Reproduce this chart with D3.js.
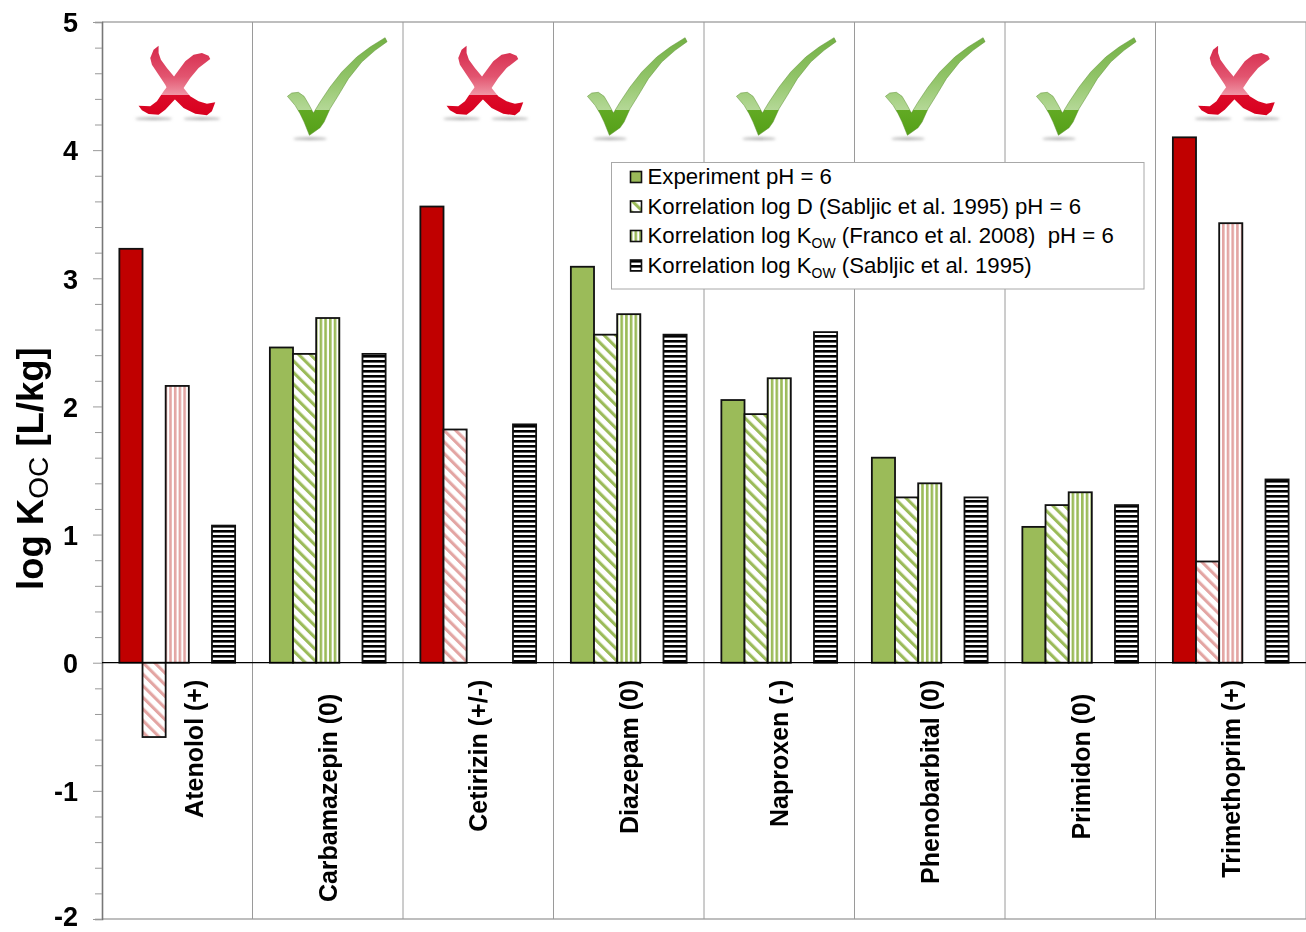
<!DOCTYPE html>
<html><head><meta charset="utf-8">
<script src="https://cdn.jsdelivr.net/npm/d3@7"></script>
<style>
html,body{margin:0;padding:0;background:#fff}
svg{display:block;filter:blur(0.4px)}
text{font-family:"Liberation Sans",Arial,sans-serif;fill:#000;white-space:pre}
</style></head><body>
<script>
const categories=["Atenolol (+)","Carbamazepin (0)","Cetirizin (+/-)","Diazepam (0)","Naproxen (-)","Phenobarbital (0)","Primidon (0)","Trimethoprim (+)"];
const agrees=[false,true,false,true,true,true,true,false];
const seriesNames=["Experiment pH = 6","Korrelation log D (Sabljic et al. 1995) pH = 6","Korrelation log K|OW| (Franco et al. 2008)  pH = 6","Korrelation log K|OW| (Sabljic et al. 1995)"];
const experiment=[3.23,2.46,3.56,3.09,2.05,1.60,1.06,4.10];
const logDSabljic=[-0.58,2.41,1.82,2.56,1.94,1.29,1.23,0.79];
const logKowFranco=[2.16,2.69,null,2.72,2.22,1.40,1.33,3.43];
const logKowSabljic=[1.07,2.41,1.86,2.56,2.58,1.29,1.23,1.43];
const majorTicks=[-2,-1,0,1,2,3,4,5];

// layout (not data)
const W=1306,H=932,plotL=102,plotR=1306,plotT=22,plotB=919;
const labelDx=[26,9,9,9,8.5,9,9.5,9], labelTop=[17,31,17,17,17,17,31,17];
const iconDx=[-3,9,4,8,6.5,5,5.5,3];
const series=[experiment,logDSabljic,logKowFranco,null,logKowSabljic];
const slotKeys=["exp","d","fr","gap","kow"];

const svg=d3.select("body").append("svg").attr("width",W).attr("height",H);
const defs=svg.append("defs");
const x=d3.scaleBand().domain(categories).range([plotL,plotR]);
const slot=d3.scaleBand().domain(slotKeys).range([0,x.bandwidth()]).paddingInner(0).paddingOuter(0.75);
const y=d3.scaleLinear().domain([-2,5]).range([plotB,plotT]);

const GREEN="#9BBB59",RED="#C00000",PINK="#E3A5A3";
function diag(id,c){const p=defs.append("pattern").attr("id",id).attr("patternUnits","userSpaceOnUse").attr("width",8.2).attr("height",8.2).attr("patternTransform","rotate(-45)");
  p.append("rect").attr("width",8.2).attr("height",8.2).attr("fill","#fff");
  p.append("rect").attr("width",3.1).attr("height",8.2).attr("fill",c);}
function vert(id,c){const p=defs.append("pattern").attr("id",id).attr("patternUnits","userSpaceOnUse").attr("width",4.7).attr("height",5);
  p.append("rect").attr("width",4.7).attr("height",5).attr("fill","#fff");
  p.append("rect").attr("width",2.6).attr("height",5).attr("fill",c);}
function horiz(id,c){const p=defs.append("pattern").attr("id",id).attr("patternUnits","userSpaceOnUse").attr("width",5).attr("height",5);
  p.append("rect").attr("width",5).attr("height",5).attr("fill","#fff");
  p.append("rect").attr("width",5).attr("height",2.6).attr("fill",c);}
diag("dG",GREEN);diag("dR",PINK);vert("vG",GREEN);vert("vR",PINK);horiz("hK","#000");
const fillFor=(k,ok)=>k==="exp"?(ok?GREEN:RED):k==="d"?(ok?"url(#dG)":"url(#dR)"):k==="fr"?(ok?"url(#vG)":"url(#vR)"):"url(#hK)";

// frame
svg.append("g").selectAll("line").data([plotT,plotB]).join("line")
  .attr("x1",plotL).attr("x2",plotR).attr("y1",d=>d).attr("y2",d=>d).attr("stroke","#a8a8a8").attr("stroke-width",1.3);
svg.append("g").selectAll("line").data(categories).join("line")
  .attr("x1",d=>x(d)+x.bandwidth()).attr("x2",d=>x(d)+x.bandwidth())
  .attr("y1",plotT).attr("y2",plotB).attr("stroke","#9a9a9a").attr("stroke-width",1);

// y axis
const minor=d3.range(-10,26).map(i=>i/5);
const ax=d3.axisLeft(y).tickValues(minor).tickSize(7).tickPadding(17)
  .tickFormat(d=>majorTicks.includes(d)?String(d):"");
const ag=svg.append("g").attr("transform",`translate(${plotL},0)`).call(ax);
ag.select(".domain").attr("stroke","#777").attr("stroke-width",1.6);
ag.selectAll(".tick line").attr("stroke","#999").attr("stroke-width",1)
  .attr("x2",d=>majorTicks.includes(d)?-9:-7);
ag.selectAll(".tick text").attr("font-size",27).attr("font-weight","bold").attr("fill","#000")
  .attr("dy",d=>d===-2?"0.24em":"0.36em")
  .style("font-family",'"Liberation Sans",Arial,sans-serif');

// bars
const rows=[];
categories.forEach((c,i)=>slotKeys.forEach((k,j)=>{
  const s=series[j]; if(s&&s[i]!==null) rows.push({c,k,v:s[i],ok:agrees[i]});
}));
svg.append("g").selectAll("rect").data(rows).join("rect")
  .attr("x",d=>x(d.c)+slot(d.k)).attr("width",slot.bandwidth())
  .attr("y",d=>y(Math.max(0,d.v))).attr("height",d=>Math.abs(y(d.v)-y(0)))
  .attr("fill",d=>fillFor(d.k,d.ok)).attr("stroke","#111").attr("stroke-width",1.8);

// zero line
svg.append("line").attr("x1",plotL).attr("x2",plotR).attr("y1",y(0)).attr("y2",y(0)).attr("stroke","#000").attr("stroke-width",1.3);

// category labels
svg.append("g").selectAll("text").data(categories).join("text")
  .attr("text-anchor","end").attr("font-size",25).attr("font-weight","bold")
  .attr("transform",(d,i)=>`translate(${x(d)+x.bandwidth()/2+labelDx[i]},${y(0)+labelTop[i]}) rotate(-90)`)
  .text(d=>d);

// y title
const yt=svg.append("text").attr("transform",`translate(43,590) rotate(-90)`).attr("font-size",36.5).attr("font-weight","bold");
yt.append("tspan").text("log K");
yt.append("tspan").attr("font-size",28).attr("font-weight","normal").attr("dy",5).text("OC");
yt.append("tspan").attr("dy",-5).text(" [L/kg]");

// icons (outlines in a local unit space, placed per category)
const blur=defs.append("filter").attr("id","soft").attr("x","-30%").attr("y","-300%").attr("width","160%").attr("height","700%");
blur.append("feGaussianBlur").attr("stdDeviation",4);
const gx=defs.append("linearGradient").attr("id","gX").attr("gradientUnits","userSpaceOnUse").attr("x1",0).attr("x2",0).attr("y1",-112).attr("y2",95);
[[0,"#D6284A"],[0.45,"#E25570"],[0.72,"#F097A6"],[0.72,"#DB0A28"],[1,"#D9001F"]].forEach(([o,c])=>gx.append("stop").attr("offset",o).attr("stop-color",c));
const gc=defs.append("linearGradient").attr("id","gC").attr("gradientUnits","userSpaceOnUse").attr("x1",0).attr("x2",0).attr("y1",-150).attr("y2",145);
[[0,"#72B043"],[0.45,"#94C66C"],[0.74,"#B4D896"],[0.74,"#62AA24"],[1,"#55A018"]].forEach(([o,c])=>gc.append("stop").attr("offset",o).attr("stop-color",c));
const local=(pts,ox,oy)=>d3.line()(pts.map(([a,b])=>[a-ox,b-oy]))+"Z";
const xA=[[175,78],[160,90],[150,115],[155,135],[175,165],[195,195],[205,215],[225,240],[250,265],[285,282],[320,287],[335,275],[345,248],[320,252],[295,245],[270,230],[250,205],[225,175],[200,145],[182,120],[175,100]];
const xB=[[330,118],[325,108],[305,100],[280,105],[255,125],[225,165],[205,195],[190,215],[170,245],[150,260],[115,258],[125,272],[145,283],[175,285],[195,270],[225,238],[250,205],[270,175],[295,145]];
const chk=[[562,228],[575,218],[595,216],[612,228],[625,250],[640,278],[660,245],[690,200],[725,155],[770,110],[810,80],[855,52],[861,64],[825,90],[785,125],[745,175],[715,225],[690,265],[672,305],[660,322],[628,345],[612,305],[600,280],[585,255]];
const icons=svg.append("g");
categories.forEach((c,i)=>{
  const cx=x(c)+x.bandwidth()/2+iconDx[i];
  if(agrees[i]){
    const g=icons.append("g").attr("transform",`translate(${cx},87) scale(${1/3})`);
    g.append("ellipse").attr("cx",-80).attr("cy",155).attr("rx",50).attr("ry",4).attr("fill","#aaa").attr("filter","url(#soft)");
    g.append("path").attr("d",local(chk,710,200)).attr("fill","url(#gC)").attr("stroke","#5c8f33").attr("stroke-width",1.5);
  } else {
    const g=icons.append("g").attr("transform",`translate(${cx},83) scale(${1/3})`);
    [-62,83].forEach(ex=>g.append("ellipse").attr("cx",ex).attr("cy",107).attr("rx",55).attr("ry",4).attr("fill","#aaa").attr("filter","url(#soft)"));
    g.append("path").attr("d",local(xB,222,190)).attr("fill","url(#gX)");
    g.append("path").attr("d",local(xA,222,190)).attr("fill","url(#gX)");
  }
});

// legend
const lg=svg.append("g");
lg.append("rect").attr("x",611.5).attr("y",162.5).attr("width",532.5).attr("height",126.5).attr("fill","#fff").attr("stroke","#a8a8a8").attr("stroke-width",1);
const swatchFill=["exp","d","fr","kow"];
const legendY=[177,206.5,236,265.5];
seriesNames.forEach((n,i)=>{
  lg.append("rect").attr("x",630.5).attr("y",legendY[i]-5.5).attr("width",11).attr("height",11)
    .attr("fill",fillFor(swatchFill[i],true)).attr("stroke","#111").attr("stroke-width",1.6);
  const parts=n.split("|");
  const t=lg.append("text").attr("x",647.5).attr("y",legendY[i]+7).attr("font-size",22.2);
  t.append("tspan").text(parts[0]);
  if(parts.length>1){
    t.append("tspan").attr("font-size",14).attr("dy",5).text(parts[1]);
    t.append("tspan").attr("dy",-5).text(parts[2]);
  }
});
</script></body></html>
